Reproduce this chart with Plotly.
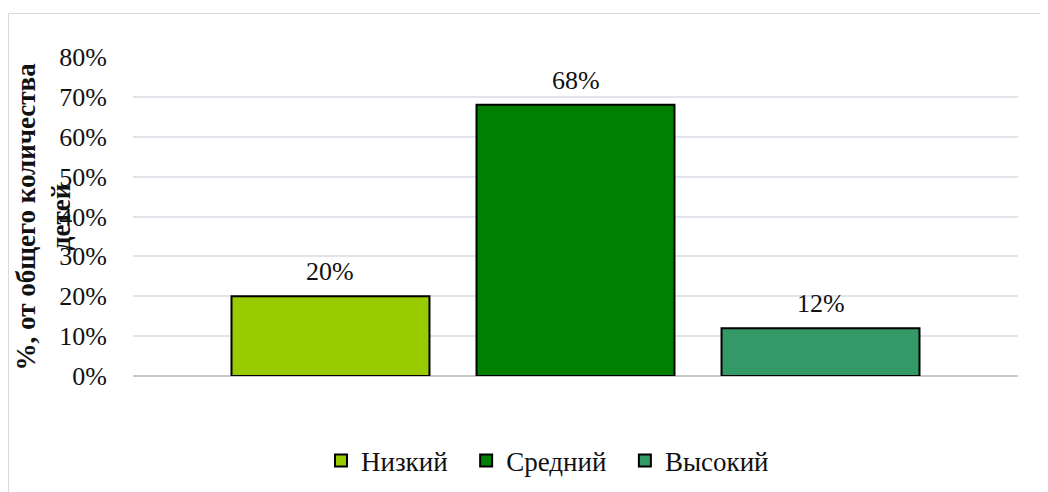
import plotly.graph_objects as go

categories = ["Низкий", "Средний", "Высокий"]
values = [0.20, 0.68, 0.12]
colors = ["#99CC00", "#008000", "#339966"]
tick_vals = [0, 0.1, 0.2, 0.3, 0.4, 0.5, 0.6, 0.7, 0.8]

FONT = "Liberation Serif, Times New Roman, serif"

fig = go.Figure()

for name, val, color in zip(categories, values, colors):
    fig.add_trace(
        go.Bar(
            x=[name],
            y=[val],
            # trailing nbsp widen the gap between legend entries
            name=name + "\u00a0\u00a0",
            width=0.808,
            marker=dict(color=color, line=dict(color="black", width=2)),
        )
    )
    # data label above each bar
    fig.add_annotation(
        x=name,
        y=val,
        text=f"{val:.0%}",
        showarrow=False,
        yanchor="bottom",
        yshift=8,
        font=dict(family=FONT, size=26, color="#111"),
    )

# page body has an 8px margin, so the figure is 8px smaller
# plot area inside the figure: x 125..1010, y 49..368
W, H = 885, 319


def px_x(p):
    return (p - 125) / W


def px_y(p):
    return (368 - p) / H


fig.update_layout(
    width=1040,
    height=484,
    margin=dict(l=125, r=30, t=49, b=116, autoexpand=False),
    paper_bgcolor="white",
    plot_bgcolor="white",
    barmode="overlay",
    font=dict(family=FONT, size=26, color="#111"),
    showlegend=True,
    legend=dict(
        orientation="h",
        x=px_x(313),
        xanchor="left",
        y=px_y(453),
        yanchor="middle",
        font=dict(family=FONT, size=27, color="#111"),
        itemwidth=30,
    ),
    shapes=[
        dict(
            type="rect",
            xref="paper",
            yref="paper",
            x0=px_x(0.5),
            x1=px_x(1060),
            y0=px_y(500),
            y1=px_y(5.5),
            line=dict(color="#D9D9D9", width=1),
            layer="below",
        )
    ],
)

fig.add_annotation(
    text="<b>%, от общего количества<br>детей</b>",
    xref="paper",
    yref="paper",
    x=px_x(35),
    y=0.5,
    xanchor="center",
    yanchor="middle",
    textangle=-90,
    showarrow=False,
    font=dict(family=FONT, size=27, color="#111"),
)

fig.update_xaxes(
    range=[-0.806, 2.806],
    showticklabels=False,
    showgrid=False,
    showline=False,
    zeroline=False,
)

fig.update_yaxes(
    range=[0, 0.8],
    tickvals=tick_vals,
    tickformat=".0%",
    showgrid=True,
    gridcolor="#E1E4EA",
    gridwidth=1.5,
    zeroline=True,
    zerolinecolor="#C8C8C8",
    zerolinewidth=1.5,
    showline=False,
    ticks="",
    ticklen=0,
    ticklabelstandoff=25,
    tickfont=dict(family=FONT, size=26, color="#111"),
)

fig.write_html("out.html")
